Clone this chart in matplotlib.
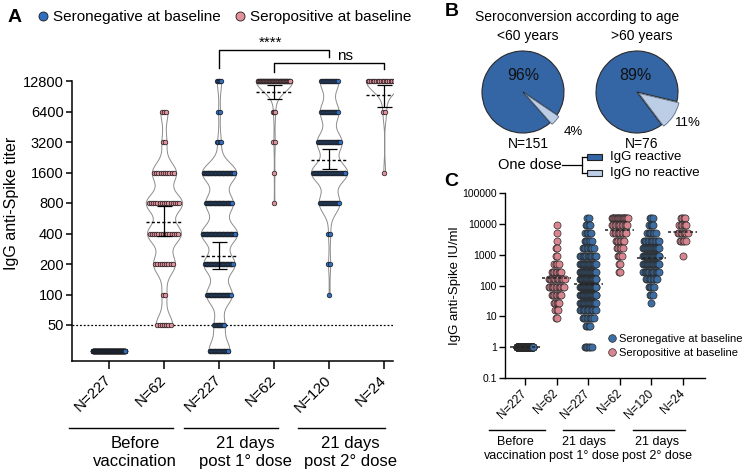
import numpy as np
import matplotlib
matplotlib.use('Agg')
import matplotlib.pyplot as plt
from matplotlib import mlab
from matplotlib.lines import Line2D
from matplotlib.patches import Rectangle

plt.rcParams['font.family'] = ['Liberation Sans', 'DejaVu Sans']

# ---------------- data ----------------
group_ticks = ['N=227', 'N=62', 'N=227', 'N=62', 'N=120', 'N=24']
group_status = ['neg', 'pos', 'neg', 'pos', 'neg', 'pos']
timepoints = ['Before\nvaccination', '21 days\npost 1° dose', '21 days\npost 2° dose']

# Panel A: titer levels (28 = undetectable, below 50)
titer_levels = [12800, 6400, 3200, 1600, 800, 400, 200, 100, 50, 28]
titer_ticks = [50, 100, 200, 400, 800, 1600, 3200, 6400, 12800]
counts_a0 = [0, 0, 0, 0, 0, 0, 0, 0, 0, 227]
counts_a1 = [0, 3, 2, 10, 15, 14, 9, 2, 7, 0]
counts_a2 = [5, 2, 4, 40, 32, 42, 36, 30, 12, 24]
counts_a3 = [55, 3, 2, 1, 1, 0, 0, 0, 0, 0]
counts_a4 = [18, 18, 24, 35, 20, 2, 2, 1, 0, 0]
counts_a5 = [21, 2, 0, 1, 0, 0, 0, 0, 0, 0]
gmt_a = [None, 525, 240, 9900, 2140, 9300]
ci_low_a = [None, 375, 178, 8500, 1750, 7100]
ci_high_a = [None, 750, 330, 11700, 2700, 11800]
threshold_a = 50

# Panel B: seroconversion after one dose
age_groups = ['<60 years', '>60 years']
pct_reactive = [96, 89]
pct_nonreactive = [4, 11]
age_n = ['N=151', 'N=76']

# Panel C: IgG IU/ml, counts per value bin
iu_values = [16000, 8900, 5000, 2800, 1600, 890, 500, 280, 160, 89, 50, 28, 16, 8.9, 5, 1]
counts_c0 = [0, 0, 0, 0, 0, 0, 0, 0, 0, 0, 0, 0, 0, 0, 0, 227]
counts_c1 = [0, 1, 1, 1, 2, 2, 4, 8, 13, 12, 8, 5, 3, 2, 0, 0]
counts_c2 = [2, 4, 5, 6, 9, 14, 20, 25, 30, 33, 27, 20, 13, 9, 4, 6]
counts_c3 = [20, 12, 10, 7, 5, 4, 2, 2, 0, 0, 0, 0, 0, 0, 0, 0]
counts_c4 = [3, 4, 7, 12, 18, 24, 20, 14, 9, 5, 3, 1, 0, 0, 0, 0]
counts_c5 = [4, 6, 8, 5, 0, 1, 0, 0, 0, 0, 0, 0, 0, 0, 0, 0]
median_c = [1, 170, 110, 6300, 780, 5500]
iu_ticks = [0.1, 1, 10, 100, 1000, 10000, 100000]
iu_tick_labels = ['0.1', '1', '10', '100', '1000', '10000', '100000']

# ---------------- style ----------------
W, H = 744, 471
BLUE_A, PINK_A = '#2f6ec0', '#e2909c'
BLUE_C, PINK_C = '#3d6ea3', '#d98590'
PIE_DARK, PIE_LIGHT = '#3465a4', '#bccde6'

fig = plt.figure(figsize=(W / 100, H / 100), dpi=100)


def fx(px):
    return px / W


def fy(py):
    return 1 - py / H


def fig_line(x0, x1, y, lw=1.0):
    fig.add_artist(Line2D([fx(x0), fx(x1)], [fy(y), fy(y)], transform=fig.transFigure,
                          color='black', lw=lw))


# ================= Panel A =================
axA = fig.add_axes([fx(72), fy(361), fx(393) - fx(72), fy(45) - fy(361)])
lvA = np.log2(titer_levels)
ylo = np.log2(50) - 36 / 30.5
yhi = np.log2(12800) + 36 / 30.5
axA.set_xlim(-0.67, 5.16)
axA.set_ylim(ylo, yhi)
pxA = 55.0
countsA = [counts_a0, counts_a1, counts_a2, counts_a3, counts_a4, counts_a5]
VW = 0.66
for i, cnts in enumerate(countsA):
    d = np.repeat(lvA, cnts)
    col = BLUE_A if group_status[i] == 'neg' else PINK_A
    if np.ptp(d) > 0:
        fac = 0.33 / np.std(d)
        vp = axA.violinplot([d], positions=[i], widths=VW, showextrema=False,
                            bw_method=fac, points=200)
        for b in vp['bodies']:
            b.set_facecolor('white')
            b.set_edgecolor('#8c8c8c')
            b.set_linewidth(0.7)
            b.set_alpha(1)
            b.set_zorder(1)
        kde = mlab.GaussianKDE(d, fac)
        grid = np.linspace(d.min(), d.max(), 200)
        kmax = kde.evaluate(grid).max()
        halfw = VW / 2 * kde.evaluate(lvA) / kmax
    else:
        halfw = np.full(len(lvA), 0.33)
    for lv, n, hw in zip(lvA, cnts, halfw):
        if n == 0:
            continue
        spread = min((n - 1) * 2.2 / pxA, 2 * hw * 0.9)
        xs = i + np.linspace(-spread / 2, spread / 2, n)
        axA.scatter(xs, np.full(n, lv), s=11, color=col, edgecolors='#1a1a1a',
                    linewidths=0.5, zorder=3)
    if gmt_a[i] is not None:
        axA.hlines(np.log2(gmt_a[i]), i - VW / 2, i + VW / 2, colors='black',
                   linestyles=(0, (2.2, 1.6)), lw=1.0, zorder=4)
        g = np.log2(gmt_a[i])
        axA.errorbar([i], [g], yerr=[[g - np.log2(ci_low_a[i])], [np.log2(ci_high_a[i]) - g]],
                     fmt='none', ecolor='black', elinewidth=0.9, capsize=5.4, capthick=0.9,
                     zorder=4)

axA.axhline(np.log2(threshold_a), color='black', ls=(0, (1.5, 1.5)), lw=0.9, zorder=2)
axA.set_yticks(np.log2(titer_ticks))
axA.set_yticklabels([str(t) for t in titer_ticks], fontsize=10.5)
axA.set_xticks(range(6))
axA.set_xticklabels(group_ticks, fontsize=11, rotation=45, ha='right', va='center',
                    rotation_mode='anchor')
axA.tick_params(axis='y', length=4, width=1.1, pad=2)
axA.tick_params(axis='x', length=6, width=1.1, pad=6)
for s in ['top', 'right']:
    axA.spines[s].set_visible(False)
for s in ['left', 'bottom']:
    axA.spines[s].set_linewidth(1.1)
axA.spines['left'].set_bounds(ylo, np.log2(12800))
axA.set_ylabel('IgG anti-Spike titer', fontsize=11.5, labelpad=3)


def y2(py):
    return np.log2(12800) + (81 - py) / 30.5


def x2(px):
    return (px - 109) / pxA


# significance brackets
axA.plot([2, 2, 4, 4], [y2(68), y2(50), y2(50), y2(57)], color='black', lw=1.0, clip_on=False)
axA.text(x2(270), y2(43), '****', ha='center', va='center', fontsize=11)
axA.plot([3, 3, 5, 5], [y2(72), y2(63), y2(63), y2(69)], color='black', lw=1.0, clip_on=False)
axA.text(x2(345), y2(56), 'ns', ha='center', va='center', fontsize=11)

# group underlines / labels
for (x0, x1), cx, lab in zip([(69, 173), (184, 278), (298, 385)], [135, 245, 350], timepoints):
    fig_line(x0, x1, 428)
    fig.text(fx(cx), fy(436), lab, ha='center', va='top', fontsize=12, linespacing=1.25)

# legend A
fig.text(fx(8), fy(17), 'A', fontsize=14, fontweight='bold', va='center', ha='left')
legA = [Line2D([], [], marker='o', ls='none', markersize=6.5, markerfacecolor=BLUE_A,
               markeredgecolor='#1a1a1a', markeredgewidth=0.6),
        Line2D([], [], marker='o', ls='none', markersize=6.5, markerfacecolor=PINK_A,
               markeredgecolor='#1a1a1a', markeredgewidth=0.6)]
fig.legend(legA, ['Seronegative at baseline', 'Seropositive at baseline'], loc='center left',
           bbox_to_anchor=(fx(38), fy(17)), ncol=2, frameon=False, fontsize=11,
           handlelength=0.7, handletextpad=0.3, columnspacing=0.9, borderpad=0, borderaxespad=0)

# ================= Panel B =================
fig.text(fx(445), fy(12), 'B', fontsize=14, fontweight='bold', va='center', ha='left')
fig.text(fx(577), fy(17), 'Seroconversion according to age', fontsize=10, ha='center', va='center')
pie_cx = [523, 637]
pie_cy = 92
R = 41
starts = [-34, -13.5]
big_lab_pos = [(523, 75), (635, 75)]
small_lab_pos = [(573, 132), (688, 123)]
for k in range(2):
    size = 130
    axp = fig.add_axes([fx(pie_cx[k] - size / 2), fy(pie_cy + size / 2), size / W, size / H])
    wedges, _ = axp.pie([pct_reactive[k], pct_nonreactive[k]], colors=[PIE_DARK, PIE_LIGHT],
                        startangle=starts[k], counterclock=True, explode=[0, 0.06],
                        wedgeprops=dict(edgecolor='#2a2a2a', linewidth=0.8))
    wedges[1].set_edgecolor('#5a6a80')
    wedges[1].set_linewidth(0.6)
    lim = size / 2 / R
    axp.set_xlim(-lim, lim)
    axp.set_ylim(-lim, lim)
    axp.set_aspect('equal')
    axp.axis('off')
    fig.text(fx(pie_cx[k] + 5), fy(36), age_groups[k], fontsize=10, ha='center', va='center')
    fig.text(fx(big_lab_pos[k][0]), fy(big_lab_pos[k][1]), f'{pct_reactive[k]}%', fontsize=11.5,
             ha='center', va='center', color='#111111')
    fig.text(fx(small_lab_pos[k][0]), fy(small_lab_pos[k][1]), f'{pct_nonreactive[k]}%',
             fontsize=9.5, ha='center', va='center')
    fig.text(fx(pie_cx[k] + 5), fy(144), age_n[k], fontsize=10, ha='center', va='center')

# B legend
fig.text(fx(498), fy(165), 'One dose', fontsize=10.5, ha='left', va='center')
fig_line(562, 582, 165, lw=0.9)
fig.add_artist(Line2D([fx(582), fx(582)], [fy(157), fy(173)], transform=fig.transFigure,
                      color='black', lw=0.9))
fig_line(582, 587, 157, lw=0.9)
fig_line(582, 587, 173, lw=0.9)
for yy, col, lab in [(157, PIE_DARK, 'IgG reactive'), (173, PIE_LIGHT, 'IgG no reactive')]:
    fig.add_artist(Rectangle((fx(587), fy(yy + 3)), 15 / W, 6 / H, transform=fig.transFigure,
                             facecolor=col, edgecolor='#222222', lw=0.8))
    fig.text(fx(610), fy(yy), lab, fontsize=9.5, ha='left', va='center')

# ================= Panel C =================
fig.text(fx(444), fy(182), 'C', fontsize=14, fontweight='bold', va='center', ha='left')
axC = fig.add_axes([fx(505), fy(378), fx(705) - fx(505), fy(193) - fy(378)])
axC.set_yscale('log')
axC.set_ylim(0.1, 1e5)
axC.set_xlim(-0.633, 5.70)
pxC = 31.6
countsC = [counts_c0, counts_c1, counts_c2, counts_c3, counts_c4, counts_c5]
for i, cnts in enumerate(countsC):
    col = BLUE_C if group_status[i] == 'neg' else PINK_C
    for v, n in zip(iu_values, cnts):
        if n == 0:
            continue
        spread = min((n - 1) * 1.4, 16) / pxC
        xs = i + np.linspace(-spread / 2, spread / 2, n)
        axC.scatter(xs, np.full(n, v), s=26, color=col, edgecolors='#2a2a2a',
                    linewidths=0.5, zorder=3)
    axC.hlines(median_c[i], i - 0.46, i + 0.46, colors='#222222',
               linestyles=(0, (2, 1.6)), lw=1.1, zorder=4)
axC.set_yticks(iu_ticks)
axC.set_yticklabels(iu_tick_labels, fontsize=7.5)
axC.yaxis.set_minor_locator(matplotlib.ticker.NullLocator())
axC.set_xticks(range(6))
axC.set_xticklabels(group_ticks, fontsize=8.5, rotation=45, ha='right', va='center',
                    rotation_mode='anchor')
axC.tick_params(axis='y', length=4, width=1.0, pad=2)
axC.tick_params(axis='x', length=5, width=1.0, pad=5)
for s in ['top', 'right']:
    axC.spines[s].set_visible(False)
for s in ['left', 'bottom']:
    axC.spines[s].set_linewidth(1.0)
axC.set_ylabel('IgG anti-Spike IU/ml', fontsize=9.5, labelpad=1)
legC = [Line2D([], [], marker='o', ls='none', markersize=5.5, markerfacecolor=BLUE_C,
               markeredgecolor='#2a2a2a', markeredgewidth=0.5),
        Line2D([], [], marker='o', ls='none', markersize=5.5, markerfacecolor=PINK_C,
               markeredgecolor='#2a2a2a', markeredgewidth=0.5)]
axC.legend(legC, ['Seronegative at baseline', 'Seropositive at baseline'], loc='upper left',
           bbox_to_anchor=(fx(609), fy(334)), bbox_transform=fig.transFigure, frameon=False,
           fontsize=8, handlelength=0.6, handletextpad=0.3, borderpad=0, borderaxespad=0,
           labelspacing=0.35)
for (x0, x1), cx, lab in zip([(489, 545), (563, 614), (633, 685)], [515, 584, 657], timepoints):
    fig_line(x0, x1, 430)
    fig.text(fx(cx), fy(436), lab, ha='center', va='top', fontsize=9, linespacing=1.2)

fig.savefig('out.png', dpi=100)
